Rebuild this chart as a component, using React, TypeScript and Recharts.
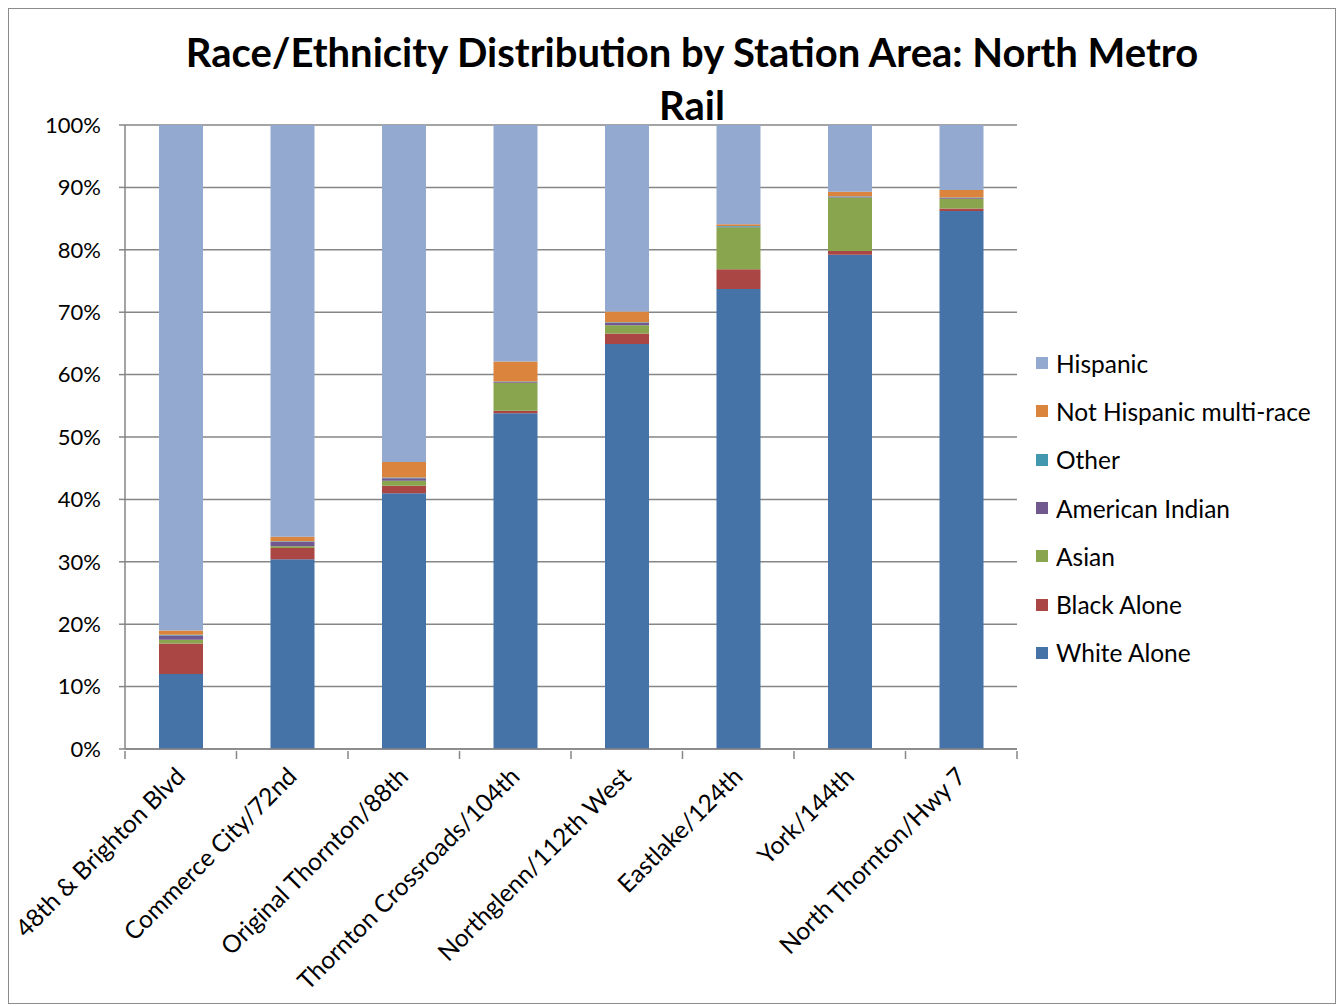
import React from 'react';
import { BarChart, Bar, XAxis, YAxis, CartesianGrid } from 'recharts';

const stations = [
  '48th & Brighton Blvd',
  'Commerce City/72nd',
  'Original Thornton/88th',
  'Thornton Crossroads/104th',
  'Northglenn/112th West',
  'Eastlake/124th',
  'York/144th',
  'North Thornton/Hwy 7',
];

const whiteAlone = [12.0, 30.4, 41.0, 53.8, 64.9, 73.7, 79.2, 86.2];
const blackAlone = [4.9, 1.8, 1.2, 0.4, 1.7, 3.2, 0.6, 0.4];
const asian = [0.6, 0.3, 0.8, 4.5, 1.3, 6.7, 8.6, 1.6];
const americanIndian = [0.7, 0.7, 0.4, 0.1, 0.4, 0.1, 0.1, 0.1];
const other = [0.1, 0.1, 0.1, 0.1, 0.1, 0.1, 0.1, 0.1];
const multiRace = [0.7, 0.7, 2.5, 3.2, 1.7, 0.3, 0.7, 1.2];
const hispanic = [81.0, 66.0, 54.0, 37.9, 29.9, 15.9, 10.7, 10.4];

const yTicks = [0, 0.1, 0.2, 0.3, 0.4, 0.5, 0.6, 0.7, 0.8, 0.9, 1];

const series = [
  { key: 'white', name: 'White Alone', values: whiteAlone, color: '#4572A7' },
  { key: 'black', name: 'Black Alone', values: blackAlone, color: '#AA4643' },
  { key: 'asian', name: 'Asian', values: asian, color: '#89A54E' },
  { key: 'amind', name: 'American Indian', values: americanIndian, color: '#71588F' },
  { key: 'other', name: 'Other', values: other, color: '#4198AF' },
  { key: 'multi', name: 'Not Hispanic multi-race', values: multiRace, color: '#DB843D' },
  { key: 'hispanic', name: 'Hispanic', values: hispanic, color: '#93A9CF' },
];

const data = stations.map((name, i) => {
  const row: Record<string, string | number> = { name };
  series.forEach((s) => {
    row[s.key] = s.values[i];
  });
  return row;
});

const FONT = 'Lato, "Open Sans", sans-serif';
const PLOT_WIDTH = 892;
const BAND = PLOT_WIDTH / stations.length;

const XTick = (props: any) => {
  const { x, y, payload, index } = props;
  const half = BAND / 2;
  return (
    <g>
      <line x1={x - half} y1={y - 8} x2={x - half} y2={y} stroke="#868686" strokeWidth={1.5} />
      {index === stations.length - 1 && (
        <line x1={x + half} y1={y - 8} x2={x + half} y2={y} stroke="#868686" strokeWidth={1.5} />
      )}
      <text
        x={x + 6}
        y={y + 19}
        textAnchor="end"
        fontSize={24.5}
        fontFamily={FONT}
        fill="#000"
        transform={`rotate(-45, ${x + 6}, ${y + 19})`}
      >
        {payload.value}
      </text>
    </g>
  );
};

export default function App() {
  return (
    <div
      style={{
        position: 'relative',
        width: 1328,
        height: 996,
        border: '1px solid #8c8c8c',
        boxSizing: 'border-box',
        fontFamily: FONT,
        background: '#fff',
      }}
    >
      <div
        style={{
          position: 'absolute',
          left: 133,
          width: 1100,
          top: 17,
          textAlign: 'center',
          fontWeight: 700,
          fontSize: 40,
          lineHeight: '53px',
          color: '#000',
        }}
      >
        Race/Ethnicity Distribution by Station Area: North Metro
        <br />
        Rail
      </div>
      <BarChart
        width={1326}
        height={994}
        data={data}
        stackOffset="expand"
        barSize={44}
        style={{ overflow: 'visible' }}
        margin={{ top: 116, right: 318, bottom: 0, left: 0 }}
      >
        <CartesianGrid vertical={false} stroke="#868686" strokeWidth={1.5} />
        <XAxis
          dataKey="name"
          height={254}
          interval={0}
          tick={<XTick />}
          tickLine={false}
          tickSize={8}
          axisLine={{ stroke: '#868686', strokeWidth: 1.5 }}
        />
        <YAxis
          width={116}
          domain={[0, 1]}
          ticks={yTicks}
          tickFormatter={(v: number) => `${Math.round(v * 100)}%`}
          tickSize={6}
          tickMargin={18}
          tick={{ fontSize: 22, fill: '#000', fontFamily: FONT }}
          tickLine={{ stroke: '#868686', strokeWidth: 1.5 }}
          axisLine={{ stroke: '#868686', strokeWidth: 1.5 }}
        />
        {series.map((s) => (
          <Bar
            key={s.key}
            dataKey={s.key}
            name={s.name}
            stackId="a"
            fill={s.color}
            isAnimationActive={false}
          />
        ))}
      </BarChart>
      <div style={{ position: 'absolute', left: 1027, top: 330 }}>
        {[...series].reverse().map((s) => (
          <div
            key={s.key}
            style={{ display: 'flex', alignItems: 'center', height: 48.3, fontSize: 24.5, color: '#000' }}
          >
            <span style={{ width: 12, height: 12, background: s.color, marginRight: 8, flexShrink: 0 }} />
            <span>{s.name}</span>
          </div>
        ))}
      </div>
    </div>
  );
}
